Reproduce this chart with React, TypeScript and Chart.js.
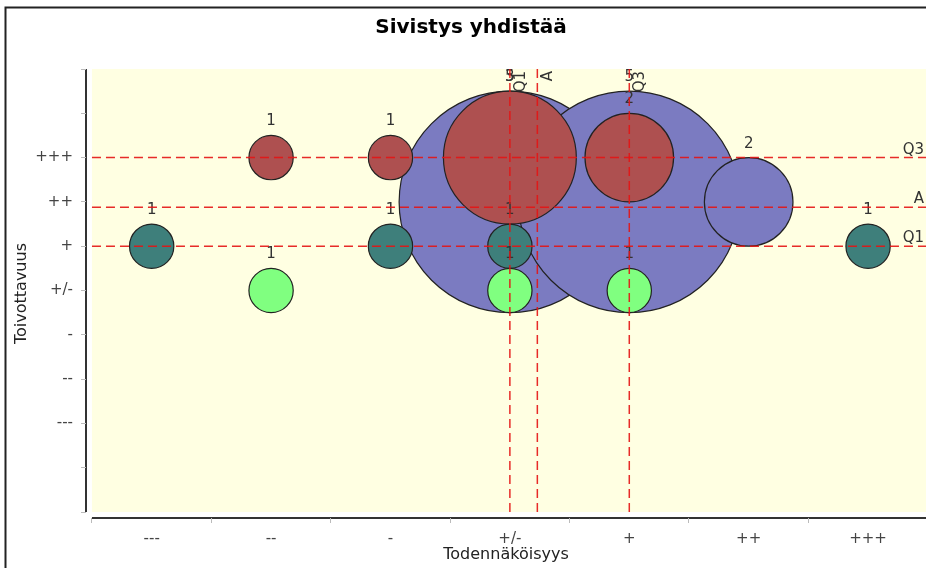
import React, { useEffect, useRef } from 'react';
import { Chart, registerables } from 'chart.js';

Chart.register(...registerables);
Chart.defaults.font.family = '"DejaVu Sans", sans-serif';

// ---- text ----
const chartTitle = 'Sivistys yhdistää';
const xTitle = 'Todennäköisyys';
const yTitle = 'Toivottavuus';

// ---- categories (same scale on both axes) ----
const xLabels = ['---', '--', '-', '+/-', '+', '++', '+++'];
const yLabels = ['---', '--', '-', '+/-', '+', '++', '+++'];

// ---- series: category index on x, category index on y, count (bubble size + label) ----
const tealX = [0, 2, 3, 6];
const tealY = [4, 4, 4, 4];
const tealN = [1, 1, 1, 1];

const greenX = [1, 3, 4];
const greenY = [3, 3, 3];
const greenN = [1, 1, 1];

const redX = [1, 2, 3, 4];
const redY = [6, 6, 6, 6];
const redN = [1, 1, 3, 2];

const blueX = [3, 4, 5];
const blueY = [5, 5, 5];
const blueN = [5, 5, 2];

// ---- statistic markers (Q1, average, Q3) ----
const markerNames = ['Q1', 'A', 'Q3'];
const xMarkers = [3, 3.23, 4];
const yMarkers = [4, 4.88, 6];

// ---- axis ticks / ranges ----
const xTicks = [0, 1, 2, 3, 4, 5, 6];
const yTicks = [-2, -1, 0, 1, 2, 3, 4, 5, 6, 7, 8];
const xMin = -0.55;
const xMax = 6.485;
const xStart = -0.5;
const yMin = -2.135;
const yMax = 8;
const yStart = -2;

const toPoints = (xs: number[], ys: number[], ns: number[]) =>
  xs.map((x, i) => ({ x, y: ys[i], n: ns[i], r: 0 }));

const decorPlugin = {
  id: 'decor',
  beforeDraw(chart: any) {
    const { ctx, width, height } = chart;
    const ca = chart.chartArea;
    const xs = chart.scales.x;
    const ys = chart.scales.y;
    ctx.save();
    ctx.fillStyle = '#ffffff';
    ctx.fillRect(0, 0, width, height);
    // outer frame
    ctx.strokeStyle = '#222';
    ctx.lineWidth = 2;
    ctx.beginPath();
    ctx.moveTo(5.5, height);
    ctx.lineTo(5.5, 7.5);
    ctx.lineTo(width, 7.5);
    ctx.stroke();
    // plot background
    const left = xs.getPixelForValue(xStart);
    const bottom = ys.getPixelForValue(yStart);
    ctx.fillStyle = '#ffffe2';
    ctx.fillRect(left, ca.top, ca.right - left, bottom - ca.top);
    // axis lines (offset from plot)
    ctx.strokeStyle = '#333';
    ctx.lineWidth = 2;
    ctx.beginPath();
    ctx.moveTo(ca.left, ca.top);
    ctx.lineTo(ca.left, bottom);
    ctx.stroke();
    ctx.beginPath();
    ctx.moveTo(left, ca.bottom);
    ctx.lineTo(ca.right, ca.bottom);
    ctx.stroke();
    ctx.restore();
  },
  afterDatasetsDraw(chart: any) {
    const { ctx } = chart;
    const ca = chart.chartArea;
    const xs = chart.scales.x;
    const ys = chart.scales.y;
    ctx.save();
    // bubble labels
    ctx.font = '15px "DejaVu Sans", sans-serif';
    ctx.fillStyle = '#333';
    ctx.textAlign = 'center';
    ctx.textBaseline = 'alphabetic';
    chart.data.datasets.forEach((ds: any) => {
      ds.data.forEach((p: any) => {
        const px = xs.getPixelForValue(p.x);
        const py = ys.getPixelForValue(p.y);
        const r = Math.abs(ys.getPixelForValue(0) - ys.getPixelForValue(p.n)) / 2;
        ctx.fillText(String(p.n), px, py - r - 10);
      });
    });
    // marker lines
    const left = xs.getPixelForValue(xStart);
    const bottom = ys.getPixelForValue(yStart);
    ctx.strokeStyle = 'rgba(228,20,20,0.9)';
    ctx.lineWidth = 1.5;
    ctx.setLineDash([9, 5]);
    yMarkers.forEach((v) => {
      const py = ys.getPixelForValue(v);
      ctx.beginPath();
      ctx.moveTo(left, py);
      ctx.lineTo(ca.right, py);
      ctx.stroke();
    });
    xMarkers.forEach((v) => {
      const px = xs.getPixelForValue(v);
      ctx.beginPath();
      ctx.moveTo(px, ca.top);
      ctx.lineTo(px, bottom);
      ctx.stroke();
    });
    ctx.setLineDash([]);
    // marker labels
    ctx.fillStyle = '#333';
    ctx.textAlign = 'right';
    ctx.textBaseline = 'alphabetic';
    yMarkers.forEach((v, i) => {
      const py = ys.getPixelForValue(v);
      ctx.fillText(markerNames[i], ca.right - 2, py - 4);
    });
    xMarkers.forEach((v, i) => {
      const px = xs.getPixelForValue(v);
      ctx.save();
      ctx.translate(px + 15, ca.top + 2);
      ctx.rotate(-Math.PI / 2);
      ctx.textAlign = 'right';
      ctx.fillText(markerNames[i], 0, 0);
      ctx.restore();
    });
    ctx.restore();
  },
};

export default function App() {
  const ref = useRef<HTMLCanvasElement | null>(null);

  useEffect(() => {
    document.body.style.margin = '0';
    if (!ref.current) return;
    const chart = new Chart(ref.current, {
      type: 'bubble',
      data: {
        datasets: [
          {
            label: 'green',
            data: toPoints(greenX, greenY, greenN),
            backgroundColor: '#80ff80',
            borderColor: '#222',
            borderWidth: 1.2,
            order: 1,
          },
          {
            label: 'teal',
            data: toPoints(tealX, tealY, tealN),
            backgroundColor: '#3e7f7b',
            borderColor: '#222',
            borderWidth: 1.2,
            order: 2,
          },
          {
            label: 'red',
            data: toPoints(redX, redY, redN),
            backgroundColor: '#ae5050',
            borderColor: '#222',
            borderWidth: 1.2,
            order: 3,
          },
          {
            label: 'blue',
            data: toPoints(blueX, blueY, blueN),
            backgroundColor: '#7b7bc1',
            borderColor: '#222',
            borderWidth: 1.2,
            order: 4,
          },
        ] as any,
      },
      options: {
        responsive: false,
        animation: false,
        devicePixelRatio: 1,
        events: [],
        layout: { autoPadding: false, padding: { left: 16, top: 0, right: 0, bottom: 0 } },
        plugins: {
          legend: { display: false },
          tooltip: { enabled: false },
          title: {
            display: true,
            text: chartTitle,
            color: '#000',
            font: { size: 20, weight: 'bold' },
            padding: { top: 16, bottom: 29 },
          },
        },
        scales: {
          x: {
            type: 'linear',
            min: xMin,
            max: xMax,
            afterBuildTicks: (s: any) => {
              s.ticks = xTicks.map((v) => ({ value: v }));
            },
            afterFit: (s: any) => {
              s.height = 50;
            },
            ticks: {
              callback: (v: any) => xLabels[v] ?? '',
              padding: 7,
              color: '#444',
              font: { size: 15 },
              autoSkip: false,
              maxRotation: 0,
            },
            grid: {
              offset: true,
              drawOnChartArea: false,
              tickLength: 5,
              tickColor: '#bbb',
            },
            border: { display: false },
            title: {
              display: true,
              text: xTitle,
              color: '#222',
              font: { size: 16 },
              padding: { top: 0, bottom: 4 },
            },
          },
          y: {
            type: 'linear',
            min: yMin,
            max: yMax,
            afterBuildTicks: (s: any) => {
              s.ticks = yTicks.map((v) => ({ value: v }));
            },
            afterFit: (s: any) => {
              s.width = 70;
            },
            ticks: {
              callback: (v: any) => yLabels[v] ?? '',
              padding: 8,
              color: '#444',
              font: { size: 15 },
              autoSkip: false,
            },
            grid: {
              drawOnChartArea: false,
              tickLength: 5,
              tickColor: '#bbb',
            },
            border: { display: false },
            title: {
              display: true,
              text: yTitle,
              color: '#222',
              font: { size: 16, lineHeight: 0.75 },
              padding: { top: 0, bottom: 0 },
            },
          },
        },
      } as any,
      plugins: [decorPlugin],
    });
    // bubble diameter = count in y-axis units (scaled through the y scale)
    const ys: any = chart.scales.y;
    const unit = Math.abs(ys.getPixelForValue(1) - ys.getPixelForValue(0));
    chart.data.datasets.forEach((ds: any) => {
      ds.data.forEach((p: any) => {
        p.r = (p.n * unit) / 2;
      });
    });
    chart.update();
    return () => chart.destroy();
  }, []);

  return (
    <div style={{ width: 926, height: 568 }}>
      <canvas ref={ref} width={926} height={568} style={{ display: 'block' }} />
    </div>
  );
}
